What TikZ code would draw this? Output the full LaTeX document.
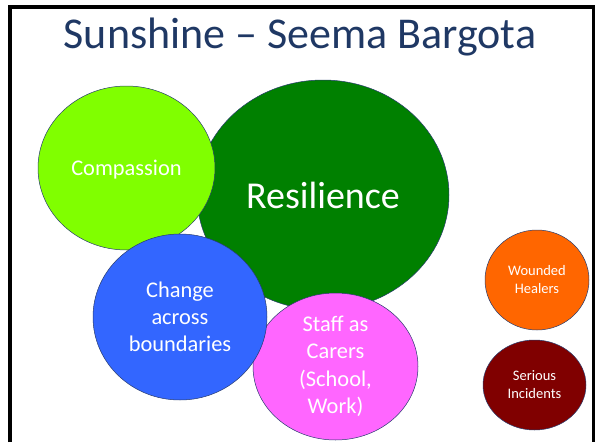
\documentclass[tikz,border=0pt]{standalone}
\usepackage{fontspec}
\setmainfont{Carlito}
\usetikzlibrary{shapes.geometric}
\definecolor{sun_title}{RGB}{31, 56, 100}
\definecolor{sun_edge}{RGB}{40, 60, 110}
\definecolor{sun_dark}{RGB}{0, 128, 0}
\definecolor{sun_lime}{RGB}{128, 255, 0}
\definecolor{sun_blue}{RGB}{51, 102, 255}
\definecolor{sun_pink}{RGB}{255, 102, 255}
\definecolor{sun_orange}{RGB}{255, 102, 0}
\definecolor{sun_maroon}{RGB}{128, 0, 0}
\tikzstyle{bub}=[ellipse,draw=sun_edge,line width=0.5pt,text=white,
  align=center,inner sep=0pt]
\tikzstyle{none}=[]

\begin{document}
\begin{tikzpicture}[x=1pt,y=-1pt]
            \useasboundingbox (0, 0) rectangle (600, 442);
            \draw [line width=3.5pt] (10, 442) -- (10, 7) -- (593.5, 7) -- (593.5, 442);
            \node [style=none, text=sun_title, font=\fontsize{44}{48}\selectfont] (t) at (300, 37) {Sunshine – Seema Bargota};
            \node [style=bub, fill=sun_dark, minimum width=252pt, minimum height=230pt,
              font=\fontsize{38}{44}\selectfont] (0) at (323, 195) {Resilience};
            \node [style=bub, fill=sun_lime, minimum width=177pt, minimum height=164pt, text depth=0pt,
              font=\fontsize{22.4}{27}\selectfont] (1) at (126.5, 168) {Compassion};
            \node [style=bub, fill=sun_pink, minimum width=165pt, minimum height=147pt,
              font=\fontsize{22.4}{27.5}\selectfont] (2) at (335.5, 366.5) {Staff as\\Carers\\(School,\\Work)};
            \node [style=bub, fill=sun_blue, minimum width=174pt, minimum height=166pt,
              font=\fontsize{22.4}{27}\selectfont] (3) at (180, 317) {Change\\across\\boundaries};
            \node [style=bub, fill=sun_orange, minimum width=104pt, minimum height=100pt,
              font=\fontsize{14.5}{18}\selectfont] (4) at (537, 280) {Wounded\\Healers};
            \node [style=bub, fill=sun_maroon, minimum width=103pt, minimum height=90pt,
              font=\fontsize{14.5}{18}\selectfont] (5) at (534.5, 385) {Serious\\Incidents};
    \end{tikzpicture}
\end{document}
